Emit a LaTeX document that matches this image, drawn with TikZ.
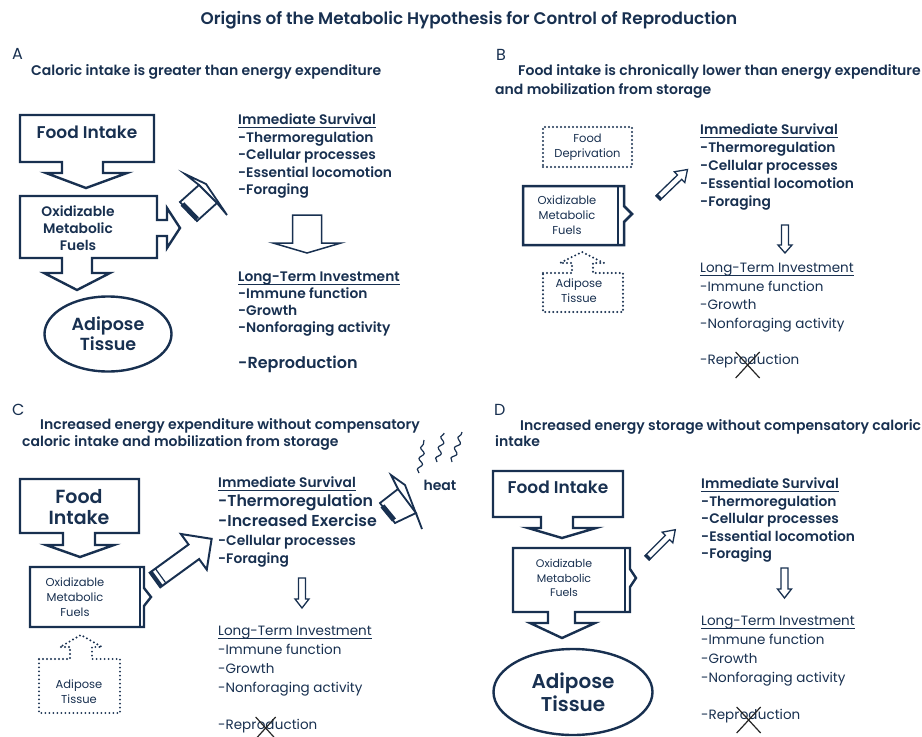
\documentclass[tikz,border=0pt]{standalone}
\usepackage{fontspec}
\setmainfont{Poppins}[BoldFont={Poppins SemiBold}]
\usetikzlibrary{calc,shapes.geometric,decorations.pathmorphing}
\definecolor{ink}{RGB}{24,48,80}
% hollow block arrow: style, x, y, angle, length, half stem, half head, head length
\newcommand\harrow[8]{\draw[#1,shift={(#2,#3)},rotate=#4] (0,-#6) -- ({#5-#8},-#6) -- ({#5-#8},-#7) -- (#5,0) -- ({#5-#8},#7) -- ({#5-#8},#6) -- (0,#6) -- cycle;}
\newcommand\htail[6]{\draw[#1,shift={(#2,#3)},rotate=#4] (#5,-#6) -- (#5,#6);}
\newcommand\uline[1]{\draw[ink, line width=0.9pt] ([yshift=-3pt]#1.base west) -- ([yshift=-3pt]#1.base east);}
\begin{document}
\begin{tikzpicture}[x=1pt,y=-1pt,line join=miter,
  tx/.style={inner sep=0pt, text=ink, text height=0.72em, text depth=0.22em, anchor=west},
  hd/.style={tx, font=\fontsize{14}{16}\selectfont\bfseries},
  it/.style={tx, font=\fontsize{13.8}{16}\selectfont\bfseries},
  itn/.style={tx, font=\fontsize{13.5}{16}\selectfont},
  lett/.style={tx, font=\fontsize{16}{18}\selectfont},
  box/.style={draw=ink, line width=2.4pt, fill=white},
  dotln/.style={draw=ink, line width=2.2pt, line cap=round, dash pattern=on 0pt off 4pt},
  hol/.style={draw=ink, line width=1.4pt, fill=white},
  small/.style={inner sep=0pt, text=ink, align=center, font=\fontsize{11.5}{15}\selectfont},
  cross/.style={draw=black!85, line width=1.2pt},
  squig/.style={draw=ink, line width=1.2pt, decorate, decoration={snake, amplitude=2.2pt, segment length=11pt}}
]
\useasboundingbox[fill=white] (0,0) rectangle (922,737);

% ---------- title ----------
\node[inner sep=0pt, text=ink, font=\fontsize{16.8}{19}\selectfont\bfseries] (title) at (469,20) {Origins of the Metabolic Hypothesis for Control of Reproduction};

% ================= PANEL A =================
\node[lett] (A) at (12,57) {A};
\node[hd] (A-t) at (31,73) {Caloric intake is greater than energy expenditure};
\draw[box] (20,115) -- (154,115) -- (154,162) -- (103,162) -- (103,173) -- (127,173) -- (86,188) -- (46,173) -- (62,173) -- (62,162) -- (20,162) -- cycle;
\node[inner sep=0pt, text=ink, font=\fontsize{17}{20}\selectfont\bfseries] (A-fi) at (87,132) {Food Intake};
\draw[box] (20,196) -- (157,196) -- (157,220) -- (167,220) -- (167,208) -- (180,228) -- (167,248) -- (167,236) -- (157,236) -- (157,258) -- (92,258) -- (92,273) -- (110,273) -- (77,290) -- (44,273) -- (62,273) -- (62,258) -- (20,258) -- cycle;
\node[inner sep=0pt, text=ink, align=center, font=\fontsize{13.8}{17}\selectfont\bfseries] (A-ox) at (78,228) {Oxidizable\\Metabolic\\Fuels};
\node[ellipse, draw=ink, line width=2.4pt, minimum width=127pt, minimum height=75pt, inner sep=0pt, text=ink, align=center, font=\fontsize{17.5}{20}\selectfont\bfseries] (A-ad) at (108,334) {Adipose\\Tissue};
% 3D arrow
\draw[box, line width=1.8pt] (199,185) -- (185,174) -- (206,184) -- (227,215) -- (217,203);
\draw[box, line width=1.8pt] (180,202) -- (199,185) -- (217,203) -- (197,221) -- cycle;
\draw[ink, line width=5pt] (182.5,204) -- (197,219);
% lists
\node[it] (A-ih) at (238,122) {Immediate Survival};
\uline{A-ih}
\foreach \t [count=\i] in {-Thermoregulation,-Cellular processes,-Essential locomotion,-Foraging}
  \node[it] (A-i\i) at (238,{122+\i*17.5}) {\t};
\harrow{hol,line width=1.5pt}{307}{215}{-90}{38}{14.5}{34}{10}
\node[it] (A-lh) at (238,279) {Long-Term Investment};
\uline{A-lh}
\foreach \t [count=\i] in {-Immune function,-Growth,-Nonforaging activity}
  \node[it] (A-l\i) at (238,{279+\i*17}) {\t};
\node[tx, font=\fontsize{16}{18}\selectfont\bfseries] (A-rep) at (238,366) {-Reproduction};

% ================= PANEL B =================
\node[lett] (B) at (496,58) {B};
\node[hd] (B-t1) at (518,73) {Food intake is chronically lower than energy expenditure};
\node[hd] (B-t2) at (495,92) {and mobilization from storage};
\node[draw=ink, line width=2.2pt, line cap=round, dash pattern=on 0pt off 4pt, minimum width=89pt, minimum height=40pt, small] (B-fd) at (587.5,147) {Food\\Deprivation};
\draw[box, line width=2.5pt] (523,186) -- (624,186) -- (624,206) -- (632,214) -- (624,222) -- (624,245) -- (523,245) -- cycle;
\draw[ink, line width=2pt] (618,186) -- (618,245);
\node[small] (B-ox) at (567,215) {Oxidizable\\Metabolic\\Fuels};
\draw[dotln] (543,273) -- (572,273) -- (572,263) -- (560,263) -- (582,252) -- (604,263) -- (593,263) -- (593,273) -- (623,273) -- (623,312) -- (543,312) -- cycle;
\node[small] (B-ad) at (579,291) {Adipose\\Tissue};
\harrow{hol,line width=1.3pt}{658}{198}{44}{41}{3}{7.5}{11}
\htail{ink,line width=3pt}{658}{198}{44}{1.2}{3.5}
\node[it] (B-ih) at (700,132) {Immediate Survival};
\uline{B-ih}
\foreach \t [count=\i] in {-Thermoregulation,-Cellular processes,-Essential locomotion,-Foraging}
  \node[it] (B-i\i) at (700,{132+\i*18}) {\t};
\harrow{hol,line width=1.3pt}{785}{225}{-90}{28}{3.5}{7}{8}
\node[itn] (B-lh) at (700,270) {Long-Term Investment};
\uline{B-lh}
\foreach \t [count=\i] in {-Immune function,-Growth,-Nonforaging activity}
  \node[itn] (B-l\i) at (700,{270+\i*18.7}) {\t};
\node[itn] (B-r1) at (700,362) {-Repr};
\node[itn, anchor=base west] (B-r2) at (B-r1.base east) {od};
\node[itn, anchor=base west] (B-r3) at (B-r2.base east) {uction};
\draw[cross] ($(B-r2.center)+(-12,-10)$) -- ($(B-r2.center)+(12,16)$);
\draw[cross] ($(B-r2.center)+(12,-10)$) -- ($(B-r2.center)+(-12,16)$);

% ================= PANEL C =================
\node[lett] (C) at (12,413) {C};
\node[hd] (C-t1) at (40,427) {Increased energy expenditure without compensatory};
\node[hd] (C-t2) at (22,444) {caloric intake and mobilization from storage};
\draw[squig] (419,473) -- (424,440);
\draw[squig] (437,462) -- (444,433);
\draw[squig] (452,462) -- (462,432);
\node[inner sep=0pt, text=ink, font=\fontsize{14}{16}\selectfont\bfseries] (C-heat) at (440,485) {heat};
\draw[box] (20,479) -- (139,479) -- (139,533) -- (95,533) -- (95,545) -- (114,545) -- (80,557) -- (46,545) -- (63,545) -- (63,533) -- (20,533) -- cycle;
\node[inner sep=0pt, text=ink, align=center, font=\fontsize{19}{21}\selectfont\bfseries] (C-fi) at (79,507) {Food\\Intake};
\draw[box] (30,567) -- (144,567) -- (144,588) -- (151,597) -- (144,606) -- (144,627) -- (30,627) -- cycle;
\draw[ink, line width=2pt] (139.5,567) -- (139.5,627);
\node[small] (C-ox) at (75,597) {Oxidizable\\Metabolic\\Fuels};
\draw[dotln] (39,659) -- (70,659) -- (70,647) -- (60,647) -- (81,635) -- (102,647) -- (92,647) -- (92,659) -- (120,659) -- (120,713) -- (39,713) -- cycle;
\node[small] (C-ad) at (79,692) {Adipose\\Tissue};
% big arrow
\harrow{hol,line width=2pt}{155}{580}{36}{70}{9}{22}{22}
\htail{ink,line width=3.5pt}{155}{580}{36}{1.5}{9}
\htail{ink,line width=1.2pt}{155}{580}{36}{7}{9}
% heat 3D arrow
\draw[box, line width=1.8pt] (398,489) -- (391,475) -- (405,485) -- (422,529) -- (416,513);
\draw[box, line width=1.8pt] (380,503) -- (398,489) -- (416,513) -- (395,523) -- cycle;
\draw[ink, line width=5pt] (382.5,506) -- (394,520);
% lists
\node[it] (C-ih) at (218,485) {Immediate Survival};
\uline{C-ih}
\node[tx, font=\fontsize{15.8}{19}\selectfont\bfseries] (C-i1) at (218,504) {-Thermoregulation};
\node[tx, font=\fontsize{15.8}{19}\selectfont\bfseries] (C-i2) at (218,524) {-Increased Exercise};
\node[it] (C-i3) at (218,543) {-Cellular processes};
\node[it] (C-i4) at (218,561) {-Foraging};
\harrow{hol,line width=1.3pt}{302}{578}{-90}{30}{3.5}{7}{9}
\node[itn] (C-lh) at (218,633) {Long-Term Investment};
\uline{C-lh}
\foreach \t [count=\i] in {-Immune function,-Growth,-Nonforaging activity}
  \node[itn] (C-l\i) at (218,{633+\i*19}) {\t};
\node[itn] (C-r1) at (218,727) {-Repr};
\node[itn, anchor=base west] (C-r2) at (C-r1.base east) {od};
\node[itn, anchor=base west] (C-r3) at (C-r2.base east) {uction};
\draw[cross] ($(C-r2.center)+(-10,-10)$) -- ($(C-r2.center)+(10,12)$);
\draw[cross] ($(C-r2.center)+(10,-10)$) -- ($(C-r2.center)+(-10,12)$);

% ================= PANEL D =================
\node[lett] (D) at (494,413) {D};
\node[hd] (D-t1) at (520,428) {Increased energy storage without compensatory caloric};
\node[hd] (D-t2) at (495,444) {intake};
\draw[box] (493,471) -- (623,471) -- (623,517) -- (573,517) -- (573,528) -- (596,528) -- (562,538) -- (528,528) -- (541,528) -- (541,517) -- (493,517) -- cycle;
\node[inner sep=0pt, text=ink, font=\fontsize{17}{20}\selectfont\bfseries] (D-fi) at (558,487) {Food Intake};
\draw[box] (513,548) -- (630,548) -- (630,569) -- (636,578) -- (630,587) -- (630,612) -- (575,612) -- (575,623) -- (595,623) -- (562,638) -- (530,623) -- (548,623) -- (548,612) -- (513,612) -- cycle;
\draw[ink, line width=2pt] (624.5,548) -- (624.5,612);
\node[small, font=\fontsize{11}{14.5}\selectfont] (D-ox) at (564,578) {Oxidizable\\Metabolic\\Fuels};
\node[ellipse, draw=ink, line width=2.4pt, minimum width=159pt, minimum height=86pt, inner sep=0pt, text=ink, align=center, font=\fontsize{20}{23}\selectfont\bfseries] (D-ad) at (573,692) {Adipose\\Tissue};
\harrow{hol,line width=1.3pt}{647}{558}{45}{40}{3}{7.5}{11}
\htail{ink,line width=3pt}{647}{558}{45}{1.2}{3.5}
\node[it] (D-ih) at (701,486) {Immediate Survival};
\uline{D-ih}
\foreach \t [count=\i] in {-Thermoregulation,-Cellular processes,-Essential locomotion,-Foraging}
  \node[it] (D-i\i) at (701,{486+\i*17.5}) {\t};
\harrow{hol,line width=1.3pt}{784.5}{568}{-90}{30}{3.5}{7}{9}
\node[itn] (D-lh) at (701,623) {Long-Term Investment};
\uline{D-lh}
\foreach \t [count=\i] in {-Immune function,-Growth,-Nonforaging activity}
  \node[itn] (D-l\i) at (701,{623+\i*19}) {\t};
\node[itn] (D-r1) at (701,717) {-Repr};
\node[itn, anchor=base west] (D-r2) at (D-r1.base east) {od};
\node[itn, anchor=base west] (D-r3) at (D-r2.base east) {uction};
\draw[cross] ($(D-r2.center)+(-12,-10)$) -- ($(D-r2.center)+(12,16)$);
\draw[cross] ($(D-r2.center)+(12,-10)$) -- ($(D-r2.center)+(-12,16)$);
\end{tikzpicture}
\end{document}
